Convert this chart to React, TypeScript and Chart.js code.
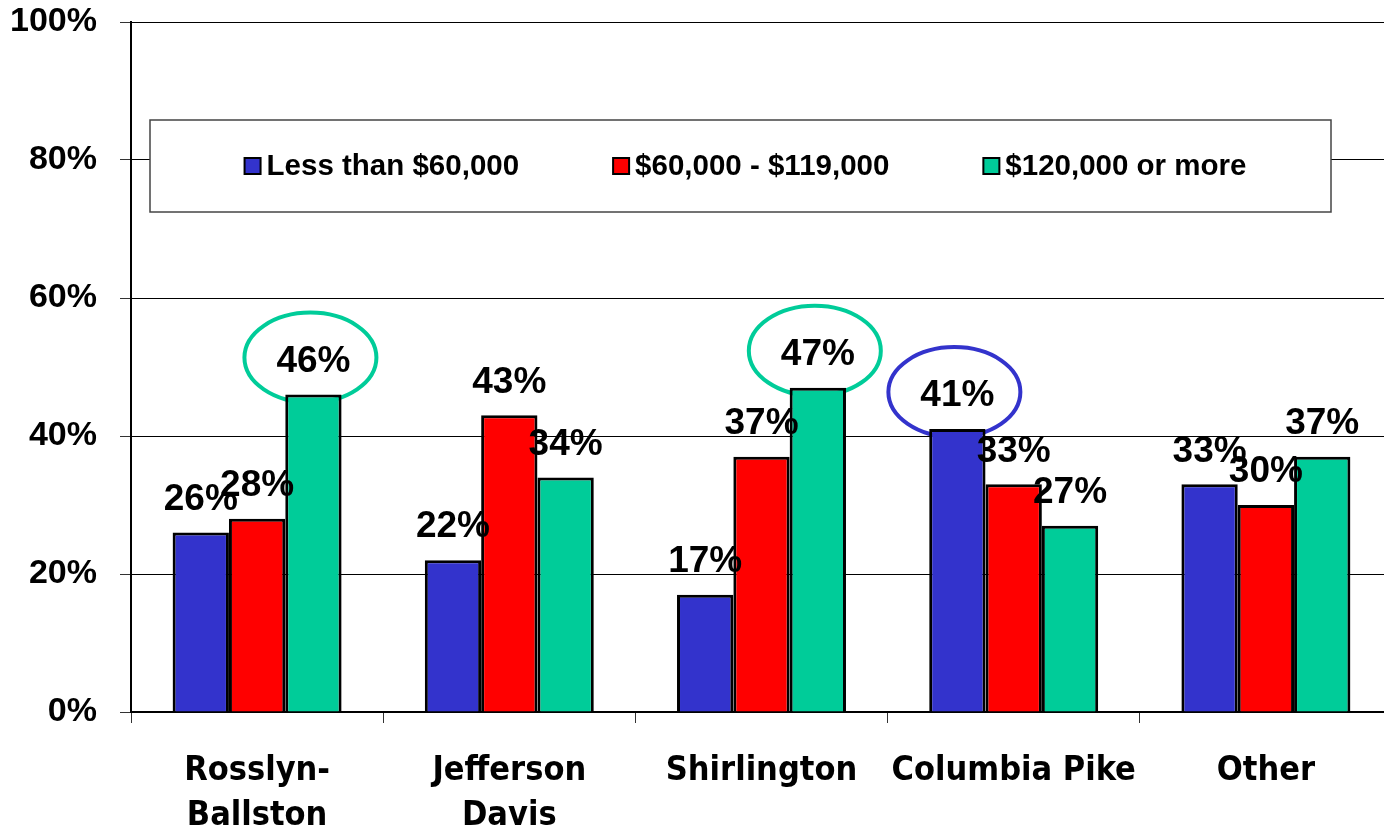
import React, { useEffect, useRef } from 'react';
import { Chart, registerables } from 'chart.js';
Chart.register(...registerables);

const categories: (string | string[])[] = [['Rosslyn-', 'Ballston'], ['Jefferson', 'Davis'], 'Shirlington', 'Columbia Pike', 'Other'];
const seriesNames = ['Less than $60,000', '$60,000 - $119,000', '$120,000 or more'];
const lessThan60k = [26, 22, 17, 41, 33];
const from60to119k = [28, 43, 37, 33, 30];
const over120k = [46, 34, 47, 27, 37];
const seriesColors = ['#3333CC', '#FF0000', '#00CC99'];
const yTickValues = [0, 20, 40, 60, 80, 100];
// highlighted values (dataset index, category index)
const highlights = [
  { ds: 2, idx: 0 },
  { ds: 2, idx: 2 },
  { ds: 0, idx: 3 },
];

const ARIAL = '"Liberation Sans", Arial, sans-serif';

const overlayPlugin = {
  id: 'overlay',
  beforeDatasetsDraw(chart: any) {
    const ctx = chart.ctx;
    ctx.save();
    highlights.forEach((h) => {
      const bar = chart.getDatasetMeta(h.ds).data[h.idx];
      const color = seriesColors[h.ds];
      ctx.beginPath();
      ctx.ellipse(bar.x - 3, bar.y - 37, 66, 45, 0, 0, Math.PI * 2);
      ctx.lineWidth = 4;
      ctx.strokeStyle = color;
      ctx.stroke();
    });
    ctx.restore();
  },
  afterDatasetsDraw(chart: any) {
    const ctx = chart.ctx;
    ctx.save();
    // value labels
    ctx.font = `bold 37px ${ARIAL}`;
    ctx.fillStyle = '#000';
    ctx.textAlign = 'center';
    ctx.textBaseline = 'middle';
    chart.data.datasets.forEach((ds: any, di: number) => {
      const meta = chart.getDatasetMeta(di);
      meta.data.forEach((bar: any, i: number) => {
        ctx.fillText(ds.data[i] + '%', bar.x, bar.y - 33);
      });
    });
    // legend box
    const bx = 150, by = 120, bw = 1181, bh = 92;
    ctx.fillStyle = '#fff';
    ctx.fillRect(bx, by, bw, bh);
    ctx.strokeStyle = '#444';
    ctx.lineWidth = 1.5;
    ctx.strokeRect(bx, by, bw, bh);
    ctx.font = `bold 29.5px ${ARIAL}`;
    ctx.textAlign = 'left';
    const sq = 16, sqGap = 6, itemGap = 94;
    const widths = chart.data.datasets.map((ds: any) => sq + sqGap + ctx.measureText(ds.label).width);
    const total = widths.reduce((a: number, b: number) => a + b, 0) + itemGap * (widths.length - 1);
    let x = bx + bw / 2 - total / 2 + 5;
    const cy = by + bh / 2;
    chart.data.datasets.forEach((ds: any, di: number) => {
      ctx.fillStyle = ds.backgroundColor;
      ctx.fillRect(x, cy - sq / 2, sq, sq);
      ctx.strokeStyle = '#000';
      ctx.lineWidth = 2;
      ctx.strokeRect(x, cy - sq / 2, sq, sq);
      ctx.fillStyle = '#000';
      ctx.fillText(ds.label, x + sq + sqGap, cy + 1);
      x += widths[di] + itemGap;
    });
    ctx.restore();
  },
};

export default function App() {
  const ref = useRef<HTMLCanvasElement>(null);
  useEffect(() => {
    document.body.style.margin = '0';
    const chart = new Chart(ref.current!, {
      type: 'bar',
      data: {
        labels: categories,
        datasets: [lessThan60k, from60to119k, over120k].map((d, i) => ({
          label: seriesNames[i],
          data: d,
          backgroundColor: seriesColors[i],
          borderColor: '#000',
          borderWidth: 3,
          categoryPercentage: 0.67,
          barPercentage: 1,
        })),
      },
      options: {
        responsive: false,
        animation: false,
        layout: { padding: { left: 0, top: 0, right: 8, bottom: 0 } },
        plugins: { legend: { display: false }, tooltip: { enabled: false } },
        scales: {
          y: {
            min: 0,
            max: 100,
            afterFit: (s: any) => { s.width = 131; s.paddingTop = 22; s.paddingBottom = 0; },
            afterBuildTicks: (s: any) => { s.ticks = yTickValues.map((v) => ({ value: v })); },
            ticks: {
              callback: (v: any) => v + '%',
              color: '#000',
              font: { family: ARIAL, weight: 'bold', size: 34 },
              padding: 23,
            },
            grid: { color: '#000', lineWidth: 1, tickLength: 11, tickColor: '#333' },
            border: { color: '#000', width: 2 },
          },
          x: {
            afterFit: (s: any) => { s.height = 114; },
            ticks: {
              color: '#000',
              font: { family: '"DejaVu Sans Condensed", "DejaVu Sans", sans-serif', weight: 'bold', size: 34, lineHeight: 1.32 },
              padding: 26,
              maxRotation: 0,
              autoSkip: false,
            },
            grid: { drawOnChartArea: false, drawTicks: true, tickLength: 11, color: '#333' },
            border: { color: '#000', width: 2 },
          },
        },
      },
      plugins: [overlayPlugin],
    });
    return () => chart.destroy();
  }, []);
  return (
    <div style={{ width: 1384, height: 826, overflow: 'hidden' }}>
      <canvas ref={ref} width={1400} height={826} style={{ display: 'block' }} />
    </div>
  );
}
